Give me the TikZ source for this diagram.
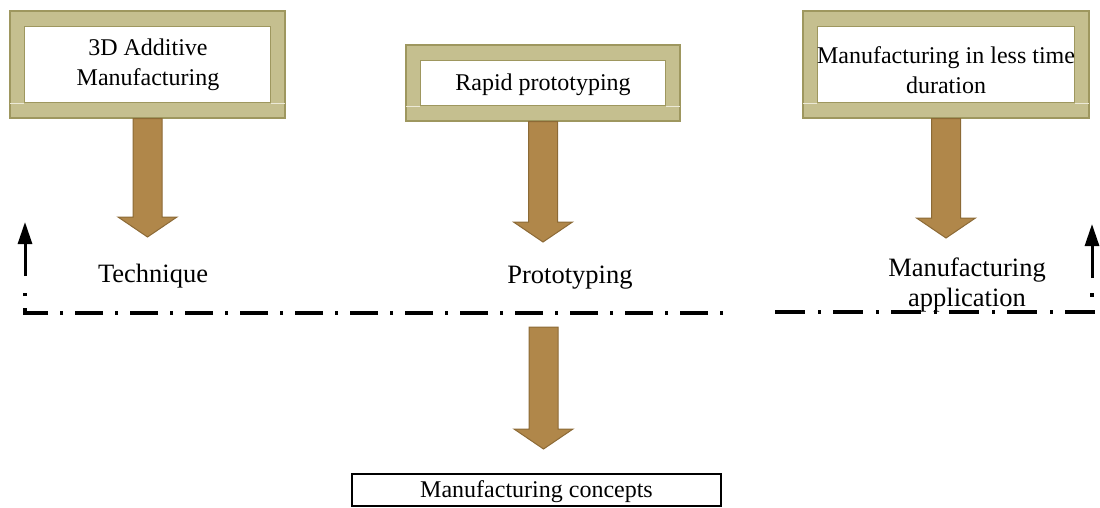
\documentclass[tikz,border=0pt]{standalone}
\usepackage{fontspec}
\setmainfont{Liberation Serif}
\usetikzlibrary{arrows.meta,calc}

\definecolor{framefill}{HTML}{C5BF8F}
\definecolor{frameedge}{HTML}{9E975F}
\definecolor{framelight}{HTML}{ECE9D6}
\definecolor{arrowfill}{HTML}{B0874A}
\definecolor{arrowedge}{HTML}{8C6A36}

\tikzset{
  frame/.style={draw=frameedge, fill=framefill, line width=1.2pt, inner sep=0pt},
  innerpanel/.style={draw=frameedge, fill=white, line width=1.2pt},
  bevel/.style={draw=framelight, line width=1pt},
  boxtext/.style={font=\fontsize{24}{30}\selectfont, align=center, inner sep=0pt},
  lbl/.style={font=\fontsize{26.5}{30}\selectfont, align=center, inner sep=0pt},
  blockarrow/.style={fill=arrowfill, draw=arrowedge, line width=1pt, line join=miter},
  dashdotL/.style={line width=3.5pt, dash pattern={on 28pt off 12pt on 3pt off 12pt}, dash phase=30pt},
  dashdotR/.style={line width=3.5pt, dash pattern={on 30pt off 13pt on 3pt off 12pt}},
  uparrow/.style={line width=3pt, -{Triangle[width=14pt,length=22pt]}},
  conceptbox/.style={draw, line width=1.3pt, inner sep=0pt}
}

% fat down arrow from the first point to the tip at the second
\newcommand\blockarrow[2]{%
  \draw[blockarrow] let \p1=(#1), \p2=(#2) in
    (\x1-14.5pt,\y1) -- (\x1-14.5pt,\y2+20pt) -- (\x1-29.5pt,\y2+20pt) -- (\x1,\y2)
    -- (\x1+29.5pt,\y2+20pt) -- (\x1+14.5pt,\y2+20pt) -- (\x1+14.5pt,\y1) -- cycle;}

% framed panel: outer olive frame, white inner panel, light bevel line
\newcommand\framedpanel[1]{%
  \draw[innerpanel] ($(#1.north west)+(15,16)$) rectangle ($(#1.south east)+(-15,-16)$);
  \draw[bevel] ($(#1.south west)+(1,-15)$) -- ++(13.5,0);
  \draw[bevel] ($(#1.south east)+(-1,-15)$) -- ++(-13.5,0);}

\begin{document}
\begin{tikzpicture}[x=1pt,y=-1pt]
\useasboundingbox (0,0) rectangle (1100,507);

% top panels
\node[frame, minimum width=275, minimum height=107] (f1) at (147.5,64.5) {};
\framedpanel{f1}
\node[boxtext] (t1) at (148,65) {3D Additive\\Manufacturing};

\node[frame, minimum width=274, minimum height=76] (f2) at (543,83) {};
\framedpanel{f2}
\node[boxtext] (t2) at (543,85) {Rapid prototyping};

\node[frame, minimum width=286, minimum height=107] (f3) at (946,64.5) {};
\framedpanel{f3}
\node[boxtext] (t3) at (946,70) {Manufacturing in less time\\duration};

% fat arrows
\coordinate (tip1) at (147.5,237);
\coordinate (tip2) at (543,242);
\coordinate (tip3) at (946,238);
\coordinate (top4) at (543.5,327);
\coordinate (tip4) at (543.5,449);
\blockarrow{f1.south}{tip1}
\blockarrow{f2.south}{tip2}
\blockarrow{f3.south}{tip3}
\blockarrow{top4}{tip4}

% dash-dot boundary
\coordinate (dl0) at (733,313);
\coordinate (dl1) at (25,313);
\coordinate (dl2) at (25,286);
\draw[dashdotL] (dl0) -- (dl1) -- (dl2);
\coordinate (al0) at (25,276);
\coordinate (al1) at (25,222);
\draw[uparrow] (al0) -- (al1);

\coordinate (dr0) at (775,312);
\coordinate (dr1) at (1100,312);
\draw[dashdotR] (dr0) -- (dr1);
\fill (1090.3,293) rectangle (1093.7,297);
\coordinate (ar0) at (1092,278);
\coordinate (ar1) at (1092,224);
\draw[uparrow] (ar0) -- (ar1);

% labels
\node[lbl] (lt) at (153,276) {Technique};
\node[lbl] (lp) at (570,278) {Prototyping};
\node[lbl] (lm) at (967,285) {Manufacturing\\application};

% bottom box
\node[conceptbox, minimum width=369, minimum height=32] (mc) at (536.5,490) {};
\node[boxtext] (mct) at (536.5,492) {Manufacturing concepts};
\end{tikzpicture}
\end{document}
